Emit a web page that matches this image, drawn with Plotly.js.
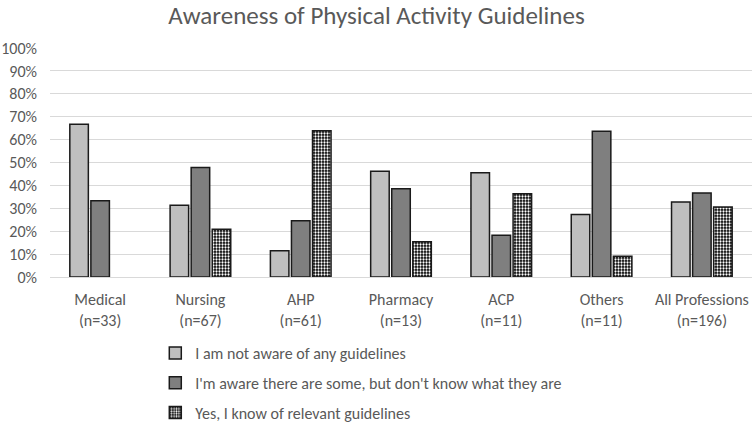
<!DOCTYPE html>
<html>
<head>
<meta charset="utf-8">
<script src="https://cdn.plot.ly/plotly-3.0.1.min.js"></script>
<style>html,body{margin:0;padding:0;background:#fff;}#chart{width:753px;height:427px;}</style>
</head>
<body>
<div id="chart"></div>
<script>
const categories = ["Medical<br>(n=33)", "Nursing<br>(n=67)", "AHP<br>(n=61)", "Pharmacy<br>(n=13)", "ACP<br>(n=11)", "Others<br>(n=11)", "All Professions<br>(n=196)"];
const seriesNames = ["I am not aware of any guidelines", "I'm aware there are some, but don't know what they are", "Yes, I know of relevant guidelines"];
const notAware = [0.667, 0.313, 0.115, 0.462, 0.455, 0.273, 0.327];
const awareUnknown = [0.333, 0.478, 0.246, 0.385, 0.182, 0.636, 0.367];
const knowGuidelines = [null, 0.209, 0.639, 0.154, 0.364, 0.091, 0.306];
const yTicks = [0, 0.1, 0.2, 0.3, 0.4, 0.5, 0.6, 0.7, 0.8, 0.9, 1.0];

const fontFam = "Carlito, Calibri, Lato, 'Open Sans', 'Liberation Sans', sans-serif";
const lineStyle = {color: "#1a1a1a", width: 1.5};
const traces = [
  {type: "bar", x: categories, y: notAware, name: seriesNames[0], legendgroup: "a",
   marker: {color: "#BFBFBF", line: lineStyle}},
  {type: "bar", x: categories, y: awareUnknown, name: seriesNames[1], legendgroup: "b",
   marker: {color: "#7F7F7F", line: lineStyle}},
  {type: "bar", x: categories, y: knowGuidelines, name: seriesNames[2], legendgroup: "c",
   marker: {color: "#000000", line: lineStyle,
            pattern: {shape: ".", fgcolor: "#ffffff", bgcolor: "#000000", size: 3, solidity: 0.45, fillmode: "replace"}}}
];
const layout = {
  width: 753, height: 427,
  margin: {l: 50, r: 1, t: 48, b: 150, autoexpand: false},
  paper_bgcolor: "#ffffff", plot_bgcolor: "#ffffff",
  font: {family: fontFam, color: "#595959", size: 16},
  title: {text: "Awareness of Physical Activity Guidelines", font: {size: 25, color: "#595959", family: fontFam}, x: 0.5, xanchor: "center", y: 0.964, yanchor: "middle"},
  barmode: "group", bargap: 0.37, bargroupgap: 0.12,
  showlegend: true,
  legend: {x: 0.15, y: -0.258, xanchor: "left", yanchor: "top", orientation: "v", traceorder: "grouped", tracegroupgap: 6,
           font: {size: 16, color: "#595959", family: fontFam}},
  xaxis: {type: "category", automargin: false, showgrid: false, showline: true, linecolor: "#D9D9D9", linewidth: 1, ticks: "", tickfont: {size: 16, color: "#595959"}, ticklabelstandoff: 8},
  yaxis: {range: [0, 1], automargin: false, tickvals: yTicks, tickformat: ".0%", showgrid: true, gridcolor: "#D9D9D9", gridwidth: 1, zeroline: false, showline: false, ticks: "", tickfont: {size: 16, color: "#595959"}, ticklabelstandoff: 12}
};
Plotly.newPlot("chart", traces, layout, {displayModeBar: false, staticPlot: true});
</script>
</body>
</html>
